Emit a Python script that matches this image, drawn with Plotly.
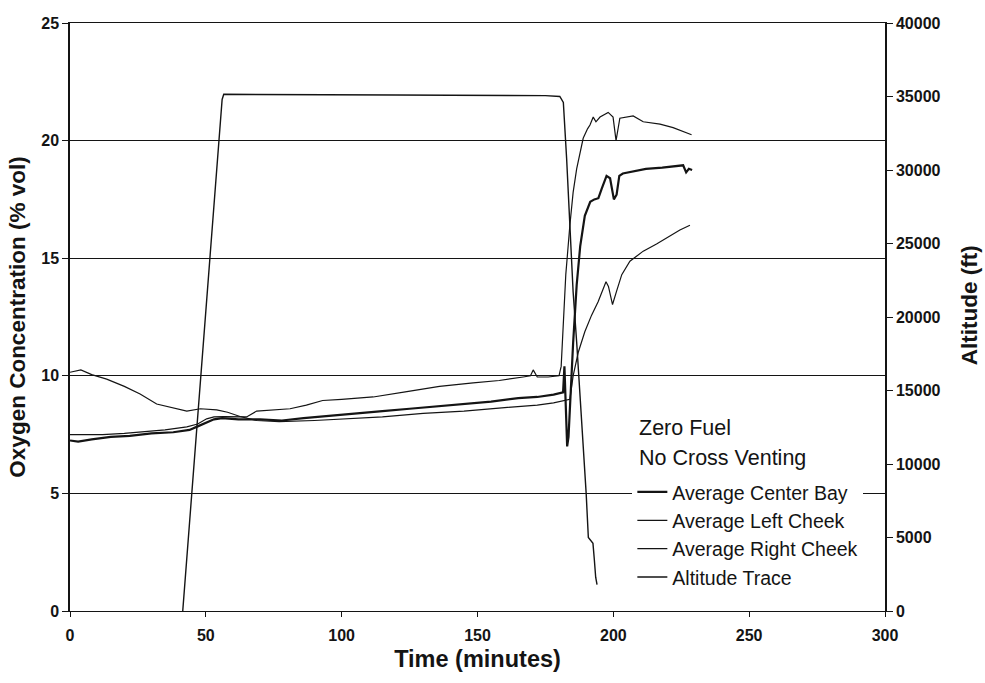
import plotly.graph_objects as go

# ---- data ----
t_center = [0, 3, 8, 15, 22, 30, 38, 44, 47, 50, 53, 56, 62, 70, 78, 86, 95, 105, 115, 125, 135, 145, 155, 165, 172, 178,
            180.5, 181.5, 182, 182.5, 183, 183.5, 184, 185.2, 186.5, 187.8, 189.5, 191.5, 193, 194.5, 195.7, 197.5, 198.8,
            200.2, 201.2, 202.2, 203.5, 207.3, 212, 218, 223, 225.7, 226.8, 227.8, 229]
o2_center = [7.25, 7.2, 7.3, 7.4, 7.45, 7.55, 7.6, 7.7, 7.85, 8.0, 8.15, 8.2, 8.15, 8.15, 8.1, 8.2, 8.3, 8.4, 8.5, 8.6, 8.7,
             8.8, 8.9, 9.05, 9.1, 9.2, 9.25, 9.3, 10.4, 9.0, 7.0, 7.4, 8.6, 11.4, 13.85, 15.5, 16.8, 17.4, 17.5, 17.55, 17.95,
             18.5, 18.4, 17.5, 17.7, 18.5, 18.6, 18.7, 18.8, 18.85, 18.9, 18.95, 18.65, 18.8, 18.75]

t_left = [0, 5, 12, 20, 26, 35, 43, 47, 50.3, 53, 56.4, 60, 65, 68.7, 75, 81, 87, 93, 100, 111.6, 124, 136, 148.4, 158,
          166.8, 169.5, 170.5, 172, 176, 180, 180.8, 181.5, 182.5, 184, 185.2, 186.5, 188.9, 190.5, 191.4, 192.6, 193.6,
          195.1, 198.1, 199.9, 200.6, 201, 202.4, 207.3, 211, 217.2, 222, 225.7, 228.8]
o2_left = [7.5, 7.5, 7.5, 7.55, 7.6, 7.7, 7.83, 7.95, 8.17, 8.25, 8.26, 8.25, 8.25, 8.5, 8.55, 8.6, 8.75, 8.95, 9.0, 9.1,
           9.33, 9.55, 9.7, 9.8, 9.95, 10.0, 10.25, 9.95, 9.95, 10.0, 10.4, 12.1, 14.3, 16.4, 17.8, 18.8, 20.1, 20.5,
           20.66, 21.0, 20.8, 21.0, 21.2, 21.0, 20.4, 20.0, 20.95, 21.05, 20.8, 20.7, 20.55, 20.4, 20.25]

t_right = [0, 2, 4, 8, 13.5, 20, 25.8, 31.9, 38, 43, 48, 54, 58, 62.6, 68.7, 77, 90, 100, 115, 130, 145, 160, 172, 178,
           183, 184, 185.2, 187.1, 189.5, 192, 194.4, 196.3, 197.3, 198.2, 199.7, 201.2, 203.1, 206.1, 211, 215.9,
           220.8, 224.5, 228.2]
o2_right = [10.15, 10.2, 10.25, 10.05, 9.86, 9.55, 9.23, 8.8, 8.65, 8.5, 8.6, 8.55, 8.45, 8.27, 8.1, 8.05, 8.1, 8.17,
            8.25, 8.4, 8.5, 8.65, 8.75, 8.85, 8.95, 9.0, 10.0, 11.0, 11.87, 12.58, 13.15, 13.72, 14.0, 13.8, 13.03,
            13.6, 14.3, 14.87, 15.3, 15.6, 15.95, 16.2, 16.4]

t_alt = [41.5, 56.0, 56.6, 60, 80, 100, 120, 140, 160, 175, 180.3, 181.6, 182.8, 184, 185.2, 186.5, 187.7, 188.9,
         190.0, 190.8, 191.5, 192.5, 193.0, 193.5, 194.0]
altitude = [0, 34800, 35150, 35150, 35120, 35100, 35100, 35080, 35080, 35060, 35000, 34600, 30800, 26200, 21700,
            18300, 14900, 10800, 8000, 5000, 4800, 4600, 3500, 2300, 1800]

series_names = ["Average Center Bay", "Average Left Cheek", "Average Right Cheek", "Altitude Trace"]
legend_heading = ["Zero Fuel", "No Cross Venting"]
x_ticks = [0, 50, 100, 150, 200, 250, 300]

INK = "#141414"
FONT = "Liberation Sans, Arial, sans-serif"
TICKFONT = dict(family=FONT, size=16, color=INK, weight="bold")

fig = go.Figure()
fig.add_trace(go.Scatter(x=t_center, y=o2_center, name=series_names[0], mode="lines",
                         line=dict(color=INK, width=2.2)))
fig.add_trace(go.Scatter(x=t_left, y=o2_left, name=series_names[1], mode="lines",
                         line=dict(color=INK, width=1.2)))
fig.add_trace(go.Scatter(x=t_right, y=o2_right, name=series_names[2], mode="lines",
                         line=dict(color=INK, width=1.2)))
fig.add_trace(go.Scatter(x=t_alt, y=altitude, name=series_names[3], mode="lines", yaxis="y2",
                         line=dict(color=INK, width=1.4)))

fig.update_layout(
    width=985, height=683,
    margin=dict(l=70, r=100, t=23, b=72),
    paper_bgcolor="white", plot_bgcolor="white",
    font=dict(family=FONT, color=INK),
    xaxis=dict(range=[0, 300], tickvals=x_ticks, ticks="outside", ticklen=5, tickcolor=INK,
               showline=True, linecolor=INK, linewidth=1.2, mirror=True, showgrid=False, zeroline=False,
               tickfont=TICKFONT, ticklabelstandoff=5,
               title=dict(text="Time (minutes)", font=dict(family=FONT, size=23.5, color=INK, weight="bold"),
                          standoff=7)),
    yaxis=dict(range=[0, 25], dtick=5, ticks="outside", ticklen=6, tickcolor=INK,
               showline=True, linecolor=INK, linewidth=1.5, showgrid=True, gridcolor=INK, gridwidth=1,
               zeroline=False, tickfont=TICKFONT,
               title=dict(text="Oxygen Concentration (% vol)",
                          font=dict(family=FONT, size=22.5, color=INK, weight="bold"), standoff=9)),
    yaxis2=dict(range=[0, 40000], dtick=5000, tickformat="d", overlaying="y", side="right", ticks="outside",
                ticklen=6, tickcolor=INK, showline=True, linecolor=INK, linewidth=1.5, showgrid=False,
                zeroline=False, tickfont=TICKFONT),
    legend=dict(x=0.69, y=0.2351, xanchor="left", yanchor="top", bgcolor="white",
                borderwidth=0, font=dict(size=19.5, color=INK), tracegroupgap=0),
    showlegend=True,
    annotations=[
        dict(text="Altitude (ft)", textangle=-90, xref="paper", yref="paper", x=1.103, y=0.52,
             xanchor="center", yanchor="middle", showarrow=False,
             font=dict(family=FONT, size=22.5, color=INK, weight="bold")),
        dict(text=legend_heading[0], xref="paper", yref="paper", x=0.6957, y=0.3118, xanchor="left",
             yanchor="middle", showarrow=False, font=dict(family=FONT, size=21.5, color=INK)),
        dict(text=legend_heading[1], xref="paper", yref="paper", x=0.6957, y=0.2606, xanchor="left",
             yanchor="middle", showarrow=False, font=dict(family=FONT, size=21.5, color=INK)),
    ],
)

fig.write_html("out.html")
